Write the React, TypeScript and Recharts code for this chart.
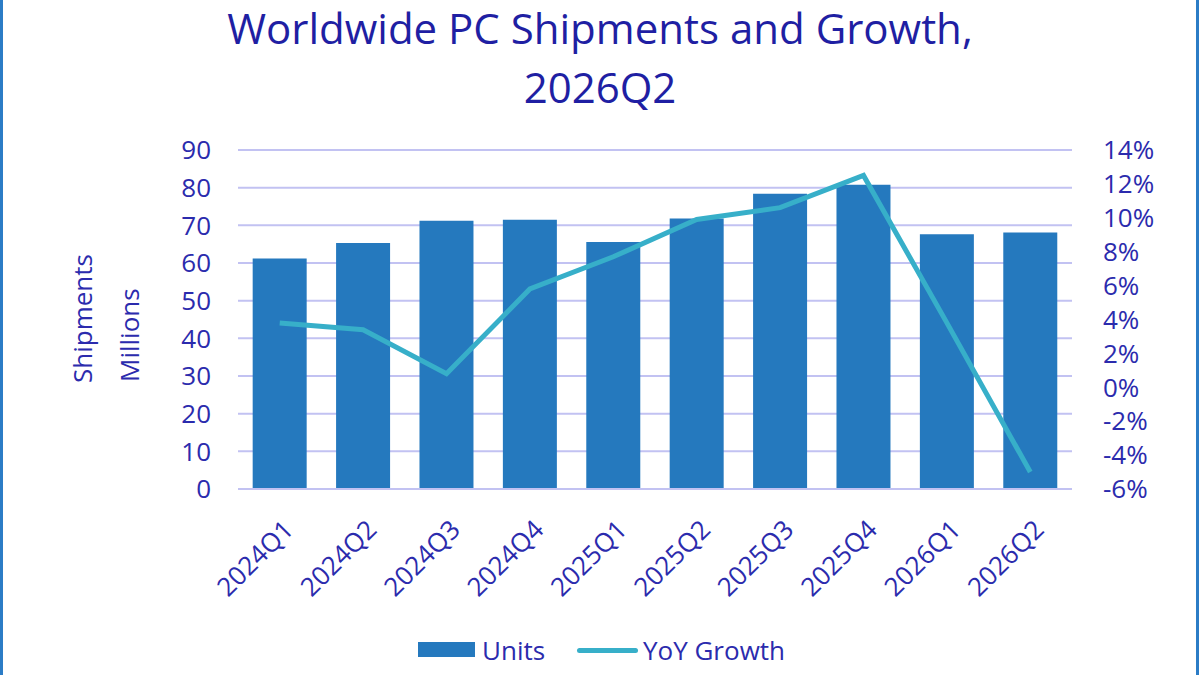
import React from 'react';
import { ComposedChart, Bar, Line, XAxis, YAxis, CartesianGrid } from 'recharts';

const quarters = ['2024Q1', '2024Q2', '2024Q3', '2024Q4', '2025Q1', '2025Q2', '2025Q3', '2025Q4', '2026Q1', '2026Q2'];
const units = [61.2, 65.3, 71.2, 71.5, 65.6, 71.8, 78.4, 80.8, 67.6, 68.1];
const yoyGrowth = [3.8, 3.4, 0.8, 5.8, 7.7, 9.9, 10.6, 12.5, 3.8, -5.0];
const unitTicks = [0, 10, 20, 30, 40, 50, 60, 70, 80, 90];
const growthTicks = [-6, -4, -2, 0, 2, 4, 6, 8, 10, 12, 14];

const data = quarters.map((q, i) => ({ quarter: q, units: units[i], growth: yoyGrowth[i] }));

const FONT = '"Open Sans", "Noto Sans", sans-serif';
const TEXT = '#2b2bad';
const TITLE = '#1f1fa3';
const GRID = '#c2c2f2';
const BAR = '#2579be';
const LINE = '#37afc9';

const XTick = (props: any) => {
  const { x, y, payload } = props;
  return (
    <g transform={`translate(${x + 2},${y}) rotate(-45)`}>
      <text x={0} y={0} dy="0.72em" textAnchor="end" fill={TEXT} fontSize={26} fontFamily={FONT}>
        {payload.value}
      </text>
    </g>
  );
};

const titleStyle: React.CSSProperties = { position: 'absolute', left: 0, width: 1200, textAlign: 'center', fontSize: 42, lineHeight: '53px', color: TITLE, whiteSpace: 'nowrap' };

export default function App() {
  return (
    <div style={{ position: 'absolute', left: 0, top: 0, width: 1200, height: 675, background: '#fff', fontFamily: FONT, overflow: 'hidden' }}>
      <div style={{ position: 'absolute', left: 0, top: 0, width: 3, height: 675, background: '#2b7cc6' }} />
      <div style={{ position: 'absolute', left: 1196, top: 0, width: 3, height: 675, background: '#2b7cc6' }} />
      <div style={{ ...titleStyle, top: 1 }}>Worldwide PC Shipments and Growth,</div>
      <div style={{ ...titleStyle, top: 60 }}>2026Q2</div>
      <ComposedChart width={1200} height={675} data={data} margin={{ top: 150, right: 0, left: 0, bottom: 0 }} barCategoryGap="17.6%">
        <CartesianGrid yAxisId="left" vertical={false} stroke={GRID} strokeWidth={2} />
        <XAxis dataKey="quarter" height={186} tickLine={false} axisLine={{ stroke: GRID, strokeWidth: 2 }} tick={<XTick />} tickMargin={23} interval={0} />
        <YAxis yAxisId="left" width={238} domain={[0, 90]} ticks={unitTicks} interval={0} tickLine={false} axisLine={false} tickMargin={21}
          tick={{ fill: TEXT, fontSize: 26, fontFamily: FONT }} />
        <YAxis yAxisId="right" orientation="right" width={128} domain={[-6, 14]} ticks={growthTicks} interval={0} tickLine={false} axisLine={false} tickMargin={25}
          tickFormatter={(v: number) => `${v}%`} tick={{ fill: TEXT, fontSize: 26, fontFamily: FONT, textAnchor: 'start' }} />
        <Bar yAxisId="left" dataKey="units" name="Units" fill={BAR} isAnimationActive={false} />
        <Line yAxisId="right" dataKey="growth" name="YoY Growth" stroke={LINE} strokeWidth={5} dot={false} activeDot={false} isAnimationActive={false} type="linear" />
      </ComposedChart>
      <div style={{ position: 'absolute', left: 69, top: 383, transform: 'rotate(-90deg)', transformOrigin: '0 0', fontSize: 26, lineHeight: '26px', color: TEXT, whiteSpace: 'nowrap' }}>Shipments</div>
      <div style={{ position: 'absolute', left: 116, top: 382, transform: 'rotate(-90deg)', transformOrigin: '0 0', fontSize: 26, lineHeight: '26px', color: TEXT, whiteSpace: 'nowrap' }}>Millions</div>
      <div style={{ position: 'absolute', left: 418, top: 642, width: 57, height: 15, background: BAR }} />
      <div style={{ position: 'absolute', left: 482, top: 635, fontSize: 26, lineHeight: '30px', color: TEXT }}>Units</div>
      <div style={{ position: 'absolute', left: 577, top: 648, width: 61, height: 5, borderRadius: 3, background: LINE }} />
      <div style={{ position: 'absolute', left: 643, top: 635, fontSize: 26, lineHeight: '30px', color: TEXT }}>YoY Growth</div>
    </div>
  );
}
